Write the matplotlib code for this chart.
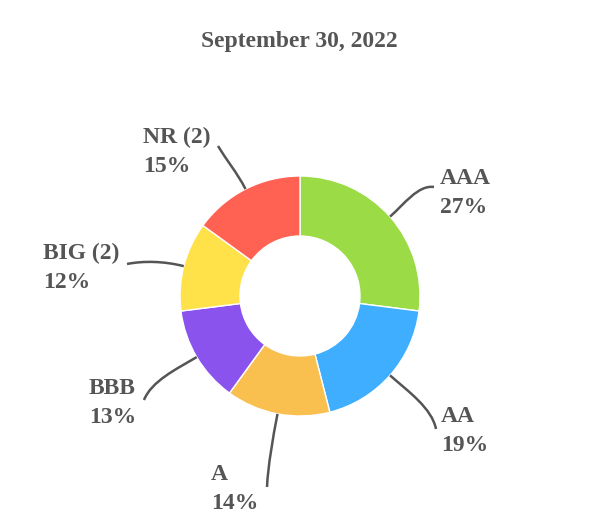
import numpy as np
import matplotlib
matplotlib.use('Agg')
import matplotlib.pyplot as plt
from matplotlib.path import Path
from matplotlib.patches import PathPatch

# data, clockwise from 12 o'clock
ratings = ['AAA', 'AA', 'A', 'BBB', 'BIG (2)', 'NR (2)']
shares = [27, 19, 14, 13, 12, 15]
colors = ['#9bdb45', '#3faeff', '#f9bf4f', '#8b53ed', '#ffe14a', '#ff6152']
title = 'September 30, 2022'

# layout (pixels, y down)
W, H = 600, 532
cx, cy, R = 300, 296, 120
# label left x, baseline of first line
label_xy = [(440, 184), (441, 422), (211, 480), (89, 394), (43, 259), (143, 143)]
# where leader line ends, and the direction it arrives in
line_end = [(434, 187), (436, 429), (267, 487), (144, 400), (127, 264), (218, 146)]
end_dir = [(1, 0.15), (0.2, 1), (-0.05, 1), (-0.4, 1), (-1, 0.2), (-0.6, -1)]

txt_color = '#555555'
font = ['Liberation Serif', 'DejaVu Serif']

fig = plt.figure(figsize=(W / 100, H / 100), dpi=100)
ax = fig.add_axes([0, 0, 1, 1])

# y axis is inverted, so startangle -90 + counterclock runs clockwise from the top on screen
ax.pie(shares, colors=colors, center=(cx, cy), radius=R, startangle=-90, counterclock=True,
       wedgeprops=dict(width=R * 0.5, edgecolor='white', linewidth=1))
ax.set_xlim(0, W)
ax.set_ylim(H, 0)
ax.set_aspect('auto')
ax.axis('off')

tot = float(sum(shares))
cum = 0
for i, v in enumerate(shares):
    mid = (cum + v / 2) / tot * 2 * np.pi
    cum += v
    ux, uy = np.sin(mid), -np.cos(mid)
    p0 = np.array([cx + R * ux, cy + R * uy])
    p3 = np.array(line_end[i], dtype=float)
    d = np.array(end_dir[i], dtype=float)
    d = d / np.hypot(*d)
    L = np.hypot(*(p3 - p0))
    p1 = p0 + np.array([ux, uy]) * L * 0.35
    p2 = p3 - d * L * 0.3
    path = Path([p0, p1, p2, p3], [Path.MOVETO, Path.CURVE4, Path.CURVE4, Path.CURVE4])
    ax.add_patch(PathPatch(path, fill=False, edgecolor=txt_color, linewidth=1.8, zorder=3))

    lx, ly = label_xy[i]
    ax.text(lx, ly, ratings[i], family=font, fontweight='bold', fontsize=17,
            color=txt_color, ha='left', va='baseline')
    ax.text(lx, ly + 29, '%d%%' % v, family=font, fontweight='bold', fontsize=17,
            color=txt_color, ha='left', va='baseline')

ax.text(299, 47, title, family=font, fontweight='bold', fontsize=17,
        color=txt_color, ha='center', va='baseline')

fig.savefig('out.png', dpi=100)
